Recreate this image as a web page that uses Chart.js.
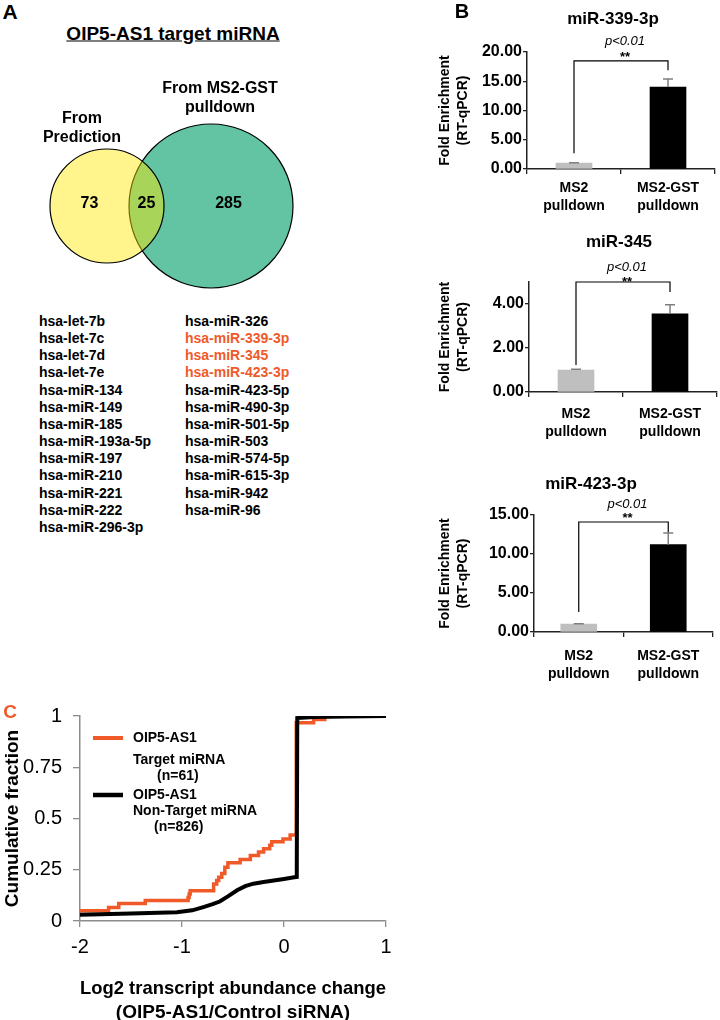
<!DOCTYPE html>
<html><head><meta charset="utf-8">
<script src="https://cdn.jsdelivr.net/npm/chart.js@4.4.1/dist/chart.umd.min.js"></script>
<style>
html,body{margin:0;padding:0;background:#fff;width:720px;height:1020px;overflow:hidden;}
body{position:relative;font-family:"Liberation Sans",Arial,sans-serif;}
.t{position:absolute;white-space:nowrap;font-weight:bold;color:#000;line-height:1;}
.c{transform:translate(-50%,-50%);}
.l{transform:translateY(-50%);}
canvas{position:absolute;}
</style></head><body>
<canvas id="venn" width="330" height="250" style="left:0;top:60px"></canvas>
<canvas id="b1" width="290" height="225" style="left:430px;top:0"></canvas>
<canvas id="b2" width="290" height="225" style="left:430px;top:225px"></canvas>
<canvas id="b3" width="290" height="240" style="left:430px;top:450px"></canvas>
<canvas id="cdf" width="400" height="340" style="left:0;top:690px"></canvas>
<div id="txt"></div>
<script>
// ---------------- DATA ----------------
const vennLabels = [['From', 'Prediction'], ['From MS2-GST', 'pulldown']];
const vennCounts = [73, 25, 285]; // prediction only, shared, pulldown only
const sharedMiRNA = ['hsa-let-7b','hsa-let-7c','hsa-let-7d','hsa-let-7e','hsa-miR-134','hsa-miR-149','hsa-miR-185','hsa-miR-193a-5p','hsa-miR-197','hsa-miR-210','hsa-miR-221','hsa-miR-222','hsa-miR-296-3p',
  'hsa-miR-326','hsa-miR-339-3p','hsa-miR-345','hsa-miR-423-3p','hsa-miR-423-5p','hsa-miR-490-3p','hsa-miR-501-5p','hsa-miR-503','hsa-miR-574-5p','hsa-miR-615-3p','hsa-miR-942','hsa-miR-96'];
const highlightedMiRNA = ['hsa-miR-339-3p','hsa-miR-345','hsa-miR-423-3p'];

const barCategories = [['MS2','pulldown'],['MS2-GST','pulldown']];
const mir339Values = [1.00, 14.0];
const mir339Errors = [0.06, 1.4];
const mir345Values = [1.00, 3.55];
const mir345Errors = [0.03, 0.42];
const mir423Values = [1.00, 11.2];
const mir423Errors = [0.06, 1.5];
const pValueText = 'p<0.01';
const starText = '**';

const targetX = [-2, -1.72, -1.62, -1.36, -0.94, -0.93, -0.92, -0.69, -0.66, -0.64, -0.61, -0.58, -0.55, -0.43, -0.33, -0.25, -0.20, -0.14, -0.12, -0.01, 0.06, 0.12, 0.29, 0.40, 1.0];
const targetY = [0.05, 0.066, 0.085, 0.10, 0.115, 0.132, 0.148, 0.18, 0.197, 0.213, 0.232, 0.262, 0.284, 0.30, 0.32, 0.337, 0.353, 0.37, 0.386, 0.40, 0.42, 0.967, 0.983, 1.0, 1.0];
const nonTargetX = [-2, -1.5, -1.05, -0.9, -0.79, -0.7, -0.63, -0.55, -0.46, -0.38, -0.3, -0.2, -0.1, 0, 0.1, 0.125, 0.13, 0.3, 0.6, 1.0];
const nonTargetY = [0.03, 0.036, 0.043, 0.052, 0.068, 0.082, 0.095, 0.12, 0.15, 0.17, 0.182, 0.19, 0.198, 0.205, 0.213, 0.215, 0.99, 0.995, 0.998, 1.0];
const cdfLegend = [['OIP5-AS1','Target miRNA','(n=61)'], ['OIP5-AS1','Non-Target miRNA','(n=826)']];
const cdfXTitle = ['Log2 transcript abundance change', '(OIP5-AS1/Control siRNA)'];
const cdfYTitle = 'Cumulative fraction';

// ---------------- STYLE ----------------
const FONT = '"Liberation Sans", Arial, sans-serif';
const ORANGE = '#EF5A28';
Chart.defaults.font.family = FONT;
Chart.defaults.color = '#000';

// ---------------- HTML TEXT ----------------
const txt = document.getElementById('txt');
function addText(s, x, y, size, opts = {}) {
  const d = document.createElement('div');
  d.className = 't ' + (opts.left ? 'l' : 'c');
  d.textContent = s;
  d.style.left = x + 'px'; d.style.top = y + 'px'; d.style.fontSize = size + 'px';
  if (opts.color) d.style.color = opts.color;
  if (opts.underline) d.style.textDecoration = 'underline';
  txt.appendChild(d);
}
addText('A', 10, 11, 21);
addText('B', 462, 11, 20);
addText('C', 10, 711, 19, {color: ORANGE});
addText('OIP5-AS1 target miRNA', 173, 33, 19, {underline: true});
addText(vennLabels[0][0], 82, 118, 16);
addText(vennLabels[0][1], 82, 137, 16);
addText(vennLabels[1][0], 220, 88, 16);
addText(vennLabels[1][1], 220, 107, 16);
const half = Math.ceil(sharedMiRNA.length / 2);
sharedMiRNA.forEach((m, i) => {
  const col = i < half ? 0 : 1, row = i < half ? i : i - half;
  addText(m, col ? 185 : 39, 321 + row * 17.15, 14, {left: true, color: highlightedMiRNA.includes(m) ? ORANGE : '#000'});
});
addText('miR-339-3p', 613, 18, 17);
addText('miR-345', 619, 241, 17);
addText('miR-423-3p', 591, 483, 17);

// ---------------- VENN ----------------
const vennLayout = { prediction: {cx: 107, cy: 206, r: 57}, pulldown: {cx: 211, cy: 206, r: 82} };
const vennCountPlugin = {
  id: 'vennCounts',
  afterDatasetsDraw(chart) {
    const {ctx, scales: {x, y}} = chart;
    const p = vennLayout.prediction, g = vennLayout.pulldown;
    const xs = [((p.cx - p.r) + (g.cx - g.r)) / 2, ((g.cx - g.r) + (p.cx + p.r)) / 2, ((p.cx + p.r) + (g.cx + g.r)) / 2];
    ctx.save();
    ctx.font = 'bold 16px ' + FONT; ctx.fillStyle = '#000'; ctx.textAlign = 'center'; ctx.textBaseline = 'middle';
    vennCounts.forEach((c, i) => ctx.fillText(String(c), x.getPixelForValue(xs[i]), y.getPixelForValue(p.cy - 2)));
    ctx.restore();
  }
};
new Chart(document.getElementById('venn'), {
  type: 'bubble',
  data: { datasets: [
    { label: vennLabels[0].join(' '), data: [{x: vennLayout.prediction.cx, y: vennLayout.prediction.cy, r: vennLayout.prediction.r}], backgroundColor: 'rgba(255,232,0,0.45)', borderColor: '#000', borderWidth: 1.2, clip: false },
    { label: vennLabels[1].join(' '), data: [{x: vennLayout.pulldown.cx, y: vennLayout.pulldown.cy, r: vennLayout.pulldown.r}], backgroundColor: '#62C4A2', borderColor: '#000', borderWidth: 1.2, clip: false }
  ]},
  options: {
    responsive: false, animation: false, devicePixelRatio: 1, events: [],
    layout: {padding: 0, autoPadding: false},
    plugins: {legend: {display: false}, tooltip: {enabled: false}},
    scales: { x: {display: false, min: 0, max: 330}, y: {display: false, min: 60, max: 310, reverse: true} }
  },
  plugins: [vennCountPlugin]
});

// ---------------- BAR CHARTS ----------------
const sigPlugin = {
  id: 'sigBars',
  afterDatasetsDraw(chart, args, o) {
    const {ctx, scales: {y}} = chart;
    const meta = chart.getDatasetMeta(0);
    const vals = chart.data.datasets[0].data;
    ctx.save();
    ctx.strokeStyle = '#7f7f7f'; ctx.lineWidth = 1.5;
    meta.data.forEach((bar, i) => {
      const cx = bar.x, yv = y.getPixelForValue(vals[i]), yt = y.getPixelForValue(vals[i] + o.errors[i]);
      ctx.beginPath(); ctx.moveTo(cx, yv); ctx.lineTo(cx, yt); ctx.moveTo(cx - 5, yt); ctx.lineTo(cx + 5, yt); ctx.stroke();
    });
    const b = o.bracket, x0 = meta.data[0].x, x1 = meta.data[1].x, yb = y.getPixelForValue(b.top);
    ctx.strokeStyle = '#000'; ctx.lineWidth = 1.2;
    ctx.beginPath();
    ctx.moveTo(x0, y.getPixelForValue(b.left)); ctx.lineTo(x0, yb); ctx.lineTo(x1, yb); ctx.lineTo(x1, y.getPixelForValue(b.right));
    ctx.stroke();
    ctx.fillStyle = '#000'; ctx.textAlign = 'center';
    ctx.textBaseline = 'middle'; ctx.font = 'italic 13px ' + FONT;
    ctx.fillText(pValueText, (x0 + x1) / 2 + 4, yb - o.pGap);
    ctx.textBaseline = 'alphabetic'; ctx.font = 'bold 13px ' + FONT;
    ctx.fillText(starText, (x0 + x1) / 2 + 4, yb - o.starGap + 7.4);
    ctx.restore();
  }
};
function barChart(id, cfg) {
  const W = cfg.w, H = cfg.h, A = cfg.area;
  return new Chart(document.getElementById(id), {
    type: 'bar',
    data: { labels: barCategories, datasets: [{ data: cfg.values, backgroundColor: ['#BFBFBF', '#000000'], borderWidth: 0, barThickness: 36 }] },
    options: {
      responsive: false, animation: false, devicePixelRatio: 1, events: [],
      layout: { padding: { left: 2, right: W - A.right, top: A.top, bottom: 2 }, autoPadding: false },
      plugins: { legend: {display: false}, tooltip: {enabled: false},
        sigBars: { errors: cfg.errors, bracket: cfg.bracket, pGap: cfg.pGap, starGap: cfg.starGap } },
      scales: {
        x: {
          offset: true,
          grid: { display: true, offset: true, drawOnChartArea: false, drawTicks: true, tickLength: 5, color: '#222', lineWidth: 1.3 },
          border: { display: true, color: '#222', width: 1.5 },
          ticks: { color: '#000', font: { size: 14, weight: 'bold', lineHeight: 1.29 }, padding: cfg.labelPad, maxRotation: 0, autoSkip: false },
          afterFit: s => { s.height = H - 2 - A.bottom; }
        },
        y: {
          min: 0, max: cfg.yMax,
          ticks: { stepSize: cfg.yStep, includeBounds: false, callback: v => Number(v).toFixed(2), color: '#000', font: { size: 16, weight: 'bold' }, padding: 1 },
          grid: { drawOnChartArea: false, drawTicks: true, tickLength: 4, color: '#222', lineWidth: 1.3 },
          border: { color: '#222', width: 1.5 },
          title: { display: true, text: ['Fold Enrichment', '(RT-qPCR)'], color: '#000', font: { size: 14, weight: 'bold', lineHeight: 1.3 }, padding: { top: 4, bottom: 0 } },
          afterFit: s => { s.width = A.left - 2; }
        }
      }
    },
    plugins: [sigPlugin]
  });
}
barChart('b1', { w: 290, h: 225, area: {left: 97, right: 285, top: 52, bottom: 169}, values: mir339Values, errors: mir339Errors,
  yMax: 20, yStep: 5, labelPad: 5, bracket: {top: 18.5, left: 2.7, right: 16.9}, pGap: 19, starGap: 7 });
barChart('b2', { w: 290, h: 225, area: {left: 99, right: 287, top: 57, bottom: 167}, values: mir345Values, errors: mir345Errors,
  yMax: 5, yStep: 2, labelPad: 8, bracket: {top: 5.0, left: 1.23, right: 4.55}, pGap: 15, starGap: 3 });
barChart('b3', { w: 290, h: 240, area: {left: 104, right: 283, top: 65, bottom: 182}, values: mir423Values, errors: mir423Errors,
  yMax: 15, yStep: 5, labelPad: 10, bracket: {top: 14.1, left: 2.56, right: 12.8}, pGap: 18, starGap: 7 });

// ---------------- CDF ----------------
const cdfLegendPlugin = {
  id: 'cdfLegend',
  afterDraw(chart) {
    const {ctx} = chart;
    const entries = [{y: 48, color: ORANGE, w: 4, lines: cdfLegend[0], dy: [0, 22.5, 38], dx: [0, 0, 24]},
                     {y: 105, color: '#000', w: 4.5, lines: cdfLegend[1], dy: [0, 16, 32], dx: [0, 0, 21]}];
    ctx.save();
    entries.forEach(e => {
      ctx.strokeStyle = e.color; ctx.lineWidth = e.w;
      ctx.beginPath(); ctx.moveTo(93, e.y); ctx.lineTo(123, e.y); ctx.stroke();
      ctx.fillStyle = '#000'; ctx.font = 'bold 14px ' + FONT; ctx.textBaseline = 'middle'; ctx.textAlign = 'left';
      e.lines.forEach((t, i) => ctx.fillText(t, 133 + e.dx[i], e.y + e.dy[i]));
    });
    ctx.restore();
  }
};
new Chart(document.getElementById('cdf'), {
  type: 'scatter',
  data: { datasets: [
    { label: cdfLegend[0].join(' '), data: targetX.map((x, i) => ({x, y: targetY[i]})), showLine: true, stepped: 'before', borderColor: ORANGE, borderWidth: 3.5, pointRadius: 0, fill: false, order: 1 },
    { label: cdfLegend[1].join(' '), data: nonTargetX.map((x, i) => ({x, y: nonTargetY[i]})), showLine: true, borderColor: '#000', borderWidth: 4, pointRadius: 0, fill: false, order: 0 }
  ]},
  options: {
    responsive: false, animation: false, devicePixelRatio: 1, events: [],
    layout: { padding: { left: 0, right: 14, top: 26, bottom: 5 }, autoPadding: false },
    plugins: { legend: {display: false}, tooltip: {enabled: false} },
    scales: {
      x: { type: 'linear', min: -2, max: 1,
        ticks: { stepSize: 1, color: '#000', font: { size: 20 }, padding: 8, callback: v => String(v) },
        grid: { drawOnChartArea: false, drawTicks: true, tickLength: 6, color: '#8c8c8c', lineWidth: 1.3 },
        border: { color: '#8c8c8c', width: 1.5 },
        title: { display: true, text: cdfXTitle, color: '#000', font: { size: 19, weight: 'bold', lineHeight: 1.26 }, padding: { top: 0, bottom: 0 } },
        afterFit: s => { s.height = 104; } },
      y: { min: 0, max: 1,
        ticks: { stepSize: 0.25, color: '#000', font: { size: 20 }, padding: 11, callback: v => String(v) },
        grid: { drawOnChartArea: false, drawTicks: true, tickLength: 7, color: '#8c8c8c', lineWidth: 1.3 },
        border: { color: '#8c8c8c', width: 1.5 },
        title: { display: true, text: cdfYTitle, color: '#000', font: { size: 19, weight: 'bold', lineHeight: 1.2 }, padding: { top: 1, bottom: 0 } },
        afterFit: s => { s.width = 80; } }
    }
  },
  plugins: [cdfLegendPlugin]
});
</script>
</body></html>
